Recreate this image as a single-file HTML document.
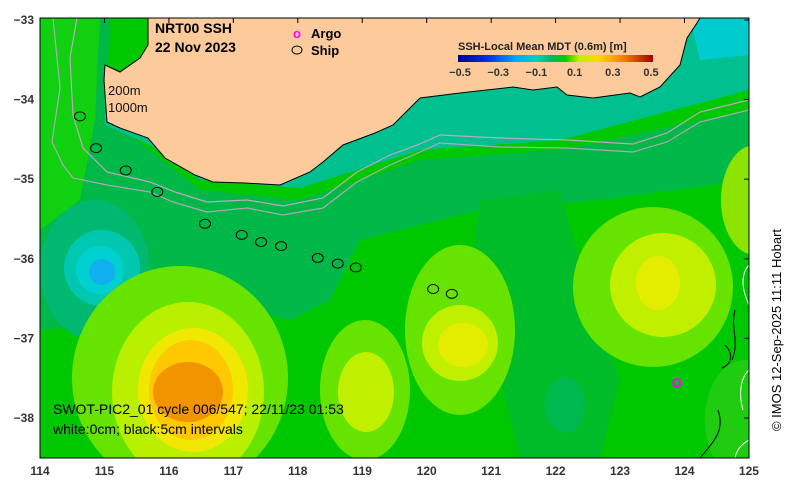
<!DOCTYPE html>
<html><head><meta charset="utf-8"><style>
html,body{margin:0;padding:0;background:#fff;width:791px;height:492px;overflow:hidden;}
svg{display:block;font-family:"Liberation Sans",sans-serif;}
</style></head><body>
<svg width="791" height="492" viewBox="0 0 791 492">
<defs>
<clipPath id="plot"><rect x="40" y="18" width="709" height="440"/></clipPath>
<linearGradient id="cb" x1="0" x2="1" y1="0" y2="0">
<stop offset="0" stop-color="#00008b"/><stop offset="0.15" stop-color="#0030e0"/><stop offset="0.3" stop-color="#00a8ff"/>
<stop offset="0.4" stop-color="#00d0c8"/><stop offset="0.48" stop-color="#00b860"/><stop offset="0.55" stop-color="#00cc00"/>
<stop offset="0.62" stop-color="#c0f000"/><stop offset="0.72" stop-color="#ffd800"/><stop offset="0.85" stop-color="#f08000"/><stop offset="1" stop-color="#a00000"/>
</linearGradient>
</defs>
<g clip-path="url(#plot)">
<rect x="40" y="18" width="709" height="440" fill="#00c800"/>
<path d="M40,18 L110,18 L105,120 L150,150 L200,190 L300,200 L420,160 L560,150 L749,110 L749,180 L600,200 L480,210 L360,240 L330,300 L290,320 L200,300 L150,320 L40,330 Z" fill="#00b848"/>
<path d="M104,80 L105,125 L150,145 L200,180 L300,188 L420,150 L560,140 L749,90 L749,18 L150,18 L150,80 Z" fill="#00c090"/>
<path d="M690,18 L749,18 L749,55 L700,60 Z" fill="#00ccd0"/>
<path d="M40,18 L100,18 L95,120 L80,200 L40,230 Z" fill="#10d010"/>
<ellipse cx="95" cy="270" rx="55" ry="70" fill="#00b870"/>
<ellipse cx="102" cy="268" rx="38" ry="38" fill="#00c8b0"/>
<ellipse cx="100" cy="270" rx="24" ry="24" fill="#00d0d0"/>
<ellipse cx="102" cy="272" rx="13" ry="13" fill="#10b0f0"/>
<path d="M480,200 L560,190 L590,300 L620,380 L600,458 L520,458 L500,380 L470,280 Z" fill="#00bc28"/>
<ellipse cx="565" cy="405" rx="20" ry="28" fill="#00b850"/>
<ellipse cx="180" cy="378" rx="108" ry="112" fill="#66e400"/>
<ellipse cx="188" cy="392" rx="76" ry="90" fill="#b8f000"/>
<ellipse cx="193" cy="390" rx="55" ry="62" fill="#f0e800"/>
<ellipse cx="191" cy="390" rx="42" ry="50" fill="#ffc800"/>
<ellipse cx="188" cy="392" rx="35" ry="30" fill="#f09400"/>
<ellipse cx="365" cy="390" rx="45" ry="70" fill="#66e400"/>
<ellipse cx="366" cy="392" rx="28" ry="40" fill="#c0f000"/>
<ellipse cx="460" cy="330" rx="55" ry="85" fill="#66e400"/>
<ellipse cx="460" cy="343" rx="38" ry="38" fill="#c0f000"/>
<ellipse cx="463" cy="345" rx="25" ry="22" fill="#e4ec00"/>
<ellipse cx="653" cy="287" rx="80" ry="80" fill="#66e400"/>
<ellipse cx="663" cy="285" rx="53" ry="52" fill="#c0f000"/>
<ellipse cx="658" cy="283" rx="22" ry="27" fill="#e4ec00"/>
<ellipse cx="755" cy="200" rx="34" ry="55" fill="#8ce400"/>
<ellipse cx="745" cy="420" rx="40" ry="60" fill="#20cc10"/>
<polyline points="53,18 60,88 52,142 63,165 73,178 107,185 150,192 173,202 207,212 247,208 283,215 323,208 357,182 390,165 420,152 440,143 500,147 567,148 633,152 667,142 700,122 749,110" fill="none" stroke="#b0a8b8" stroke-width="1.2"/>
<polyline points="77,18 70,58 73,115 83,148 107,172 150,182 175,192 207,202 247,200 283,206 323,198 357,172 390,155 420,144 440,135 500,138 567,140 633,144 667,133 700,112 749,100" fill="none" stroke="#c0a8c0" stroke-width="1.2"/>
<path d="M735,310 C730,330 740,340 732,360 M725,345 C735,355 730,365 722,368 M718,410 C725,430 715,440 700,458" fill="none" stroke="#000" stroke-width="1"/>
<path d="M749,265 C740,275 742,290 749,305 M749,370 C738,380 740,400 743,410 M749,440 C740,445 736,452 735,458" fill="none" stroke="#fff" stroke-width="1"/>
<path d="M148,18 L148,45 L140,58 L120,72 L105,65 L104,80 L107,122 L120,128 L148,138 L165,158 L195,175 L213,182 L245,183 L280,185 L310,172 L323,162 L343,145 L375,133 L393,125 L420,98 L460,93 L513,87 L533,90 L557,87 L567,95 L593,98 L630,93 L640,97 L660,87 L680,65 L687,38 L697,23 L700,18 Z" fill="#fdcb9b" stroke="#000" stroke-width="1"/>
</g>
<rect x="40" y="18" width="709" height="440" fill="none" stroke="#000" stroke-width="1"/>
<g id="axes" font-size="12" fill="#333"></g>
<g id="marks"></g>
<text x="155" y="33" font-size="14" font-weight="bold">NRT00 SSH</text>
<text x="155" y="52" font-size="14" font-weight="bold">22 Nov 2023</text>
<text x="108" y="95" font-size="13" fill="#111">200m</text>
<text x="108" y="112" font-size="13" fill="#111">1000m</text>
<text x="293" y="38" font-size="13" font-weight="bold" fill="#ff00ff">o</text>
<text x="311" y="38" font-size="13" font-weight="bold">Argo</text>
<ellipse cx="297" cy="50" rx="5" ry="4" fill="none" stroke="#000"/>
<text x="311" y="55" font-size="13" font-weight="bold">Ship</text>
<text x="458" y="50" font-size="11" font-weight="bold" fill="#222">SSH-Local Mean MDT (0.6m) [m]</text>
<rect x="458" y="55" width="195" height="7" fill="url(#cb)"/>
<g id="cbticks" font-size="11" font-weight="bold" fill="#333" text-anchor="middle"></g>
<text x="53" y="414" font-size="14" fill="#000">SWOT-PIC2_01 cycle 006/547; 22/11/23 01:53</text>
<text x="53" y="434" font-size="14" fill="#000">white:0cm; black:5cm intervals</text>
<text transform="translate(781,330) rotate(-90)" font-size="13" text-anchor="middle" fill="#000">© IMOS 12-Sep-2025 11:11 Hobart</text>
</svg>
<script>
const lonTicks=[114,115,116,117,118,119,120,121,122,123,124,125];
const latTicks=[-33,-34,-35,-36,-37,-38];
const cbLabels=["-0.5","-0.3","-0.1","0.1","0.3","0.5"];
const shipLon=[114.62,114.87,115.33,115.82,116.56,117.13,117.43,117.74,118.31,118.62,118.90,120.10,120.39];
const shipLat=[-34.21,-34.61,-34.89,-35.16,-35.56,-35.70,-35.79,-35.84,-35.99,-36.06,-36.11,-36.38,-36.44];
const argoLon=[123.88];
const argoLat=[-37.56];
const NS="http://www.w3.org/2000/svg";
function xS(lon){return 40+(lon-114)*64.45;}
function yS(lat){return 20+(-33-lat)*79.6;}
const ax=document.getElementById('axes');
lonTicks.forEach(v=>{
 const t=document.createElementNS(NS,'text');t.setAttribute('x',xS(v));t.setAttribute('y',475);t.setAttribute('text-anchor','middle');t.setAttribute('font-weight','bold');t.textContent=v;
 
 
 ax.appendChild(t);
 const l=document.createElementNS(NS,'line');l.setAttribute('x1',xS(v));l.setAttribute('x2',xS(v));l.setAttribute('y1',18);l.setAttribute('y2',23);l.setAttribute('stroke','#000');
 
 
 ax.appendChild(l);
});
latTicks.forEach(v=>{
 const t=document.createElementNS(NS,'text');t.setAttribute('x',34);t.setAttribute('y',yS(v)+4);t.setAttribute('text-anchor','end');t.setAttribute('font-weight','bold');t.textContent='\u2212'+Math.abs(v);
 
 
 ax.appendChild(t);
 const l=document.createElementNS(NS,'line');l.setAttribute('x1',744);l.setAttribute('x2',749);l.setAttribute('y1',yS(v));l.setAttribute('y2',yS(v));l.setAttribute('stroke','#000');
 
 
 ax.appendChild(l);
});
const cb=document.getElementById('cbticks');
cbLabels.forEach((s,i)=>{
 const t=document.createElementNS(NS,'text');t.setAttribute('x',460+i*38.2);t.setAttribute('y',76);t.textContent=s.replace('-','\u2212');
 
 
 cb.appendChild(t);
});
const mk=document.getElementById('marks');
shipLon.forEach((lo,i)=>{
 const e=document.createElementNS(NS,'ellipse');e.setAttribute('cx',xS(lo));e.setAttribute('cy',yS(shipLat[i]));e.setAttribute('rx',5.5);e.setAttribute('ry',4.5);e.setAttribute('fill','none');e.setAttribute('stroke','#000');
 
 
 mk.appendChild(e);
});
argoLon.forEach((lo,i)=>{
 const e=document.createElementNS(NS,'ellipse');e.setAttribute('cx',xS(lo));e.setAttribute('cy',yS(argoLat[i]));e.setAttribute('rx',3.5);e.setAttribute('ry',4);e.setAttribute('fill','none');e.setAttribute('stroke','#ff00ff');e.setAttribute('stroke-width',2);
 
 
 mk.appendChild(e);
});
</script>
</body></html>
